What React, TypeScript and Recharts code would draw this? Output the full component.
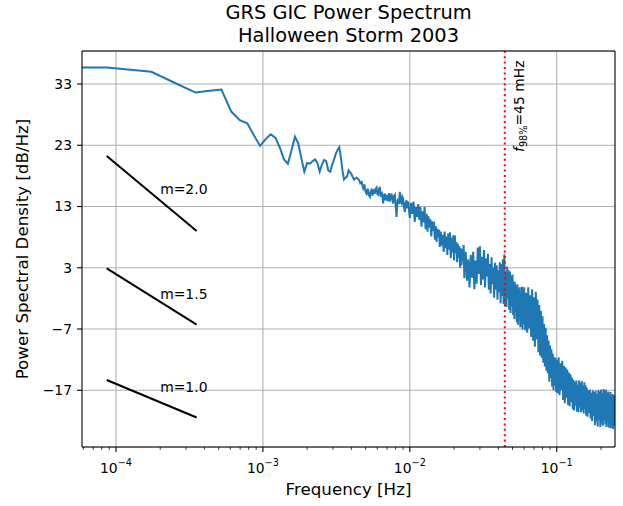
import React from 'react';
import {
  LineChart,
  Line,
  XAxis,
  YAxis,
  CartesianGrid,
  ReferenceLine,
  ReferenceDot
} from 'recharts';

// axis limits (frequency in Hz, PSD in dB/Hz)
const X_MIN = 5.871e-5;
const X_MAX = 0.2492;
const Y_MIN = -26.26;
const Y_MAX = 38.39;

const majorTicks = [1e-4, 1e-3, 1e-2, 1e-1];
const majorTickExp = ['\u22124', '\u22123', '\u22122', '\u22121'];
const minorMultipliers = [2, 3, 4, 5, 6, 7, 8, 9];
const yTicks = [33, 23, 13, 3, -7, -17];

// PSD: [frequency mHz, dB/Hz]
const psdLow = [
  [0.05, 35.7], [0.087, 35.7], [0.174, 35.0], [0.261, 33.0], [0.348, 31.6],
  [0.435, 31.9], [0.522, 32.1], [0.609, 28.5], [0.696, 27.1], [0.783, 26.6],
  [0.87, 24.6], [0.957, 22.9], [1.044, 24.0], [1.131, 24.8], [1.218, 24.2],
  [1.305, 22.6], [1.392, 20.7], [1.479, 20.0], [1.566, 22.2], [1.653, 24.4],
  [1.74, 23.3], [1.827, 20.9], [1.914, 18.7], [2.001, 20.1], [2.088, 20.0],
  [2.175, 20.4], [2.262, 20.7], [2.349, 20.1], [2.436, 18.7], [2.523, 19.9],
  [2.61, 20.6], [2.697, 20.4], [2.784, 18.9], [2.871, 18.7], [2.958, 19.8],
  [3.045, 20.6], [3.132, 21.6], [3.219, 22.2], [3.306, 22.7], [3.393, 21.1],
  [3.48, 18.9], [3.567, 17.4], [3.654, 17.7], [3.741, 17.9], [3.828, 18.9],
  [3.915, 18.6], [4.002, 18.3], [4.089, 17.8], [4.176, 17.4], [4.263, 17.6],
  [4.35, 17.7], [4.437, 17.5], [4.524, 17.3]
];

const psdMid = [
  [4.6, 16.8], [4.7, 17.0], [4.81, 16.0], [4.9, 16.6], [5.0, 15.4],
  [5.08, 15.1], [5.17, 15.9], [5.26, 14.9], [5.35, 14.6], [5.42, 15.5],
  [5.49, 15.7], [5.57, 14.8], [5.65, 15.8], [5.78, 15.1], [5.86, 15.9],
  [5.94, 16.1], [6.02, 15.0], [6.09, 14.9], [6.17, 15.8], [6.25, 16.2],
  [6.34, 14.6], [6.42, 15.4], [6.5, 14.9], [6.58, 13.5], [6.67, 14.7],
  [6.76, 15.1], [6.85, 14.0], [6.94, 14.9], [7.03, 13.9], [7.12, 14.3],
  [7.21, 15.2], [7.3, 13.8], [7.4, 14.6], [7.51, 15.1], [7.6, 14.1],
  [7.7, 13.5], [7.8, 14.7], [7.91, 14.9], [8.01, 13.2], [8.12, 11.3],
  [8.22, 13.6], [8.32, 14.3], [8.43, 13.4], [8.55, 15.4], [8.66, 13.8],
  [8.78, 13.5], [8.89, 14.6], [9.0, 14.3], [9.12, 13.0], [9.25, 12.1],
  [9.37, 13.6], [9.5, 14.0], [9.62, 12.7], [9.74, 13.8], [9.87, 12.4],
  [10.0, 11.1], [10.2, 13.6], [10.4, 11.8],
  [10.6, 13.8], [10.8, 10.5], [11.0, 12.9], [11.2, 11.3], [11.4, 13.4],
  [11.6, 10.8], [11.8, 12.9], [12.0, 9.7], [12.2, 12.2], [12.4, 10.4],
  [12.6, 12.9], [12.8, 9.3], [13.0, 11.8], [13.2, 8.9], [13.4, 11.4],
  [13.6, 9.6], [13.8, 10.9], [14.0, 8.1], [14.2, 10.6], [14.4, 9.0],
  [14.6, 10.5], [14.8, 7.6], [15.0, 9.8], [15.2, 7.2], [15.4, 9.4],
  [15.6, 8.0], [15.8, 9.2], [16.0, 6.4], [16.25, 8.9], [16.5, 6.6],
  [16.75, 8.4], [17.0, 5.6], [17.25, 8.9], [17.5, 6.2], [17.75, 8.1],
  [18.0, 5.1], [18.25, 8.6], [18.5, 6.0], [18.75, 8.8], [19.0, 4.6],
  [19.25, 7.9], [19.5, 5.5], [19.75, 8.3], [20.0, 4.2], [20.25, 8.3],
  [20.5, 5.4], [20.75, 7.2], [21.0, 3.9], [21.25, 6.9], [21.5, 4.6],
  [21.75, 6.5], [22.0, 3.0], [22.25, 6.2], [22.5, 3.4], [22.75, 6.0],
  [23.0, 4.1], [23.25, 6.7], [23.5, 1.3], [23.75, 5.2]
];

const psdHigh = [
  [24, 5.6], [24.5, 0.9], [25, 4.4], [25.5, -0.2], [26, 5.1], [26.5, 1.4],
  [27, 5.6], [27.5, -0.5], [28, 4.2], [28.5, 0.4], [29, 6.3], [29.5, 2.0],
  [30, 6.5], [30.5, 0.2], [31, 4.8], [31.5, 1.1], [32, 5.9], [32.5, -0.2],
  [33, 4.5], [33.5, 1.6], [34, 5.3], [34.5, -0.6], [35, 3.6], [35.5, -1.2],
  [36, 4.7], [36.5, 0.3], [37, 3.1], [37.5, -1.9], [38, 3.8], [38.5, -0.6],
  [39, 3.4], [39.5, -2.2], [40, 2.6], [40.5, -1.0], [41, 3.9], [41.5, -2.8],
  [42, 3.6], [42.5, -1.6], [43, 4.4], [43.5, -2.9], [44, 5.2], [44.5, -3.1],
  [45, 2.4], [45.5, -3.4], [46, 3.2], [46.5, -2.0], [47, 2.6], [47.5, -3.9],
  [48, 2.4], [48.5, -4.4], [49, 1.7], [49.5, -3.3], [50, 1.9], [50.5, -4.7],
  [51, 0.8], [51.5, -5.4], [52, 0.6], [52.5, -4.2], [53, 0.1], [53.5, -5.9],
  [54, 0.3], [54.5, -6.3], [55, -0.6], [55.5, -4.8], [56, -0.2], [56.5, -6.7],
  [57, -1.3], [57.5, -5.9], [58, -0.1], [58.5, -7.1], [59, -0.9], [59.5, -6.2],
  [60, -0.2]
];

const psdSteep = [
  [61, -7.2], [62, -1.1], [63, -7.6], [64, -0.2], [65, -6.9], [66, -1.5],
  [67, -8.3], [68, -0.5], [69, -8.9], [70, -1.8], [71, -9.9], [72, -0.9],
  [73, -8.7], [74, -2.2], [75, -10.8], [76, -3.1], [77, -11.3], [78, -4.0],
  [79, -11.7], [80, -4.9], [81, -12.5], [82, -6.2], [83, -13.1], [84, -6.8],
  [85, -13.8], [86, -8.0], [87, -14.2], [88, -8.9], [89, -15.6], [90, -9.7],
  [91, -15.0], [92, -10.3], [93, -16.4], [94, -11.0], [95, -17.0], [96, -11.6],
  [97, -16.2], [98, -11.7], [99, -17.3], [100, -12.0]
];

const psdTail = [
  [101.5, -17.5], [103, -11.6], [104.5, -17.8], [106, -12.6], [107.5, -17.0],
  [109, -12.2], [110.5, -18.6], [112, -13.0], [113.5, -19.1], [115, -13.3],
  [116.5, -18.2], [118, -13.6], [119.5, -19.4], [121, -14.1], [122.5, -19.6],
  [124, -14.4], [125.5, -18.9], [127, -14.9], [128.5, -20.1], [130, -15.3],
  [131.5, -20.3], [133, -15.6], [134.5, -19.5], [136, -15.4], [137.5, -20.5],
  [139, -16.1], [140.5, -20.6], [142, -15.4], [143.5, -19.8], [145, -15.8],
  [146.5, -20.6], [148, -15.5], [149.5, -20.2], [151, -16.3], [152.5, -20.8],
  [154, -15.7], [155.5, -20.0], [157, -16.2], [158.5, -21.1], [160, -16.6],
  [162, -21.3], [164, -17.0], [166, -20.7], [168, -16.9], [170, -21.6],
  [172, -17.4], [174, -22.0], [176, -17.0], [178, -21.2], [180, -17.3],
  [182, -22.7], [184, -17.1], [186, -22.1], [188, -17.6], [190, -22.9],
  [192, -17.0], [194, -21.8], [196, -17.2], [198, -23.0], [200, -16.9],
  [202, -22.4], [204, -17.5], [206, -22.8], [208, -16.8], [210, -21.9],
  [212, -17.1], [214, -22.6], [216, -16.9], [218, -23.0], [220, -17.4],
  [222, -22.2], [224, -17.2], [226, -23.1], [228, -17.7], [230, -22.5],
  [232, -17.3], [234, -23.2], [236, -17.9], [238, -22.6], [240, -17.6],
  [242, -23.3], [244, -18.0], [246, -22.8], [248, -17.8]
];

// 98% frequency marker
const f98 = 0.0443;
const f98LabelDb = 21.9;

// reference slopes
const slopeLabels = ['m=2.0', 'm=1.5', 'm=1.0'];
const slopeFreq = [8.65e-5, 3.54e-4];
const slopeStartDb = [21.25, 2.91, -15.32];
const slopeEndDb = [9.0, -6.28, -21.45];
const slopeLabelFreq = 2e-4;
const slopeLabelDb = [15.1, -2.1, -17.2];

const data = [...psdLow, ...psdMid, ...psdHigh, ...psdSteep, ...psdTail].map(([mhz, db]) => ({
  f: mhz / 1000,
  db
}));

const xTicks = [
  ...majorTicks,
  ...[1e-5, 1e-4, 1e-3, 1e-2, 1e-1].flatMap(d => minorMultipliers.map(m => m * d))
]
  .filter(t => t >= X_MIN && t <= X_MAX)
  .sort((a, b) => a - b);

const FONT = 'DejaVu Sans';
const GRID = '#b0b0b0';

const XTick = (props: any) => {
  const { x, y, payload } = props;
  const idx = majorTicks.findIndex(
    t => Math.abs(Math.log10(t) - Math.log10(payload.value)) < 1e-6
  );
  const major = idx >= 0;
  return (
    <g>
      <line
        x1={x}
        x2={x}
        y1={y}
        y2={y + (major ? 4.9 : 2.8)}
        stroke="#000"
        strokeWidth={major ? 1.1 : 0.8}
      />
      {major && (
        <text x={x} y={y + 26} textAnchor="middle" fontSize={13.9} fill="#000" fontFamily={FONT}>
          <tspan>10</tspan>
          <tspan fontSize={9.7} dy={-7}>{majorTickExp[idx]}</tspan>
        </text>
      )}
    </g>
  );
};

const App = () => {
  return (
    <div style={{ position: 'absolute', left: 0, top: 0, fontFamily: FONT, background: '#fff' }}>
      <LineChart
        width={623}
        height={506}
        data={data}
        margin={{ top: 51, right: 8, left: 0, bottom: 0 }}
      >
        <CartesianGrid vertical={false} stroke={GRID} strokeWidth={1.1} />
        {majorTicks.map(t => (
          <ReferenceLine key={t} x={t} stroke={GRID} strokeWidth={1.1} />
        ))}
        <XAxis
          dataKey="f"
          type="number"
          scale="log"
          domain={[X_MIN, X_MAX]}
          allowDataOverflow
          ticks={xTicks}
          interval={0}
          tick={<XTick />}
          tickLine={false}
          tickSize={0}
          tickMargin={0}
          height={59}
          axisLine={{ stroke: '#000', strokeWidth: 1.1 }}
        />
        <YAxis
          type="number"
          domain={[Y_MIN, Y_MAX]}
          allowDataOverflow
          ticks={yTicks}
          interval={0}
          width={82}
          tickSize={5}
          tickMargin={5}
          tickLine={{ stroke: '#000', strokeWidth: 1.1 }}
          axisLine={{ stroke: '#000', strokeWidth: 1.1 }}
          tick={{ fill: '#000', fontSize: 13.9, fontFamily: FONT }}
          tickFormatter={(v: number) => String(v).replace('-', '\u2212')}
        />
        {slopeLabels.map((lab, i) => (
          <ReferenceLine
            key={lab}
            segment={[
              { x: slopeFreq[0], y: slopeStartDb[i] },
              { x: slopeFreq[1], y: slopeEndDb[i] }
            ]}
            stroke="#000"
            strokeWidth={2}
          />
        ))}
        {slopeLabels.map((lab, i) => (
          <ReferenceDot
            key={'l' + lab}
            x={slopeLabelFreq}
            y={slopeLabelDb[i]}
            r={0}
            shape={(p: any) => (
              <text x={p.cx} y={p.cy} fontSize={13.9} fill="#000" fontFamily={FONT}>
                {lab}
              </text>
            )}
          />
        ))}
        <Line
          dataKey="db"
          type="linear"
          stroke="#1f77b4"
          strokeWidth={2}
          dot={false}
          activeDot={false}
          isAnimationActive={false}
        />
        <ReferenceLine
          x={f98}
          stroke="#ff0000"
          strokeWidth={2}
          strokeDasharray="2 3.4"
        />
        <ReferenceDot
          x={f98}
          y={f98LabelDb}
          r={0}
          shape={(p: any) => (
            <text
              x={p.cx + 19}
              y={p.cy}
              transform={`rotate(-90 ${p.cx + 19} ${p.cy})`}
              fontSize={13.9}
              fill="#000"
              fontFamily={FONT}
            >
              <tspan fontStyle="italic">f</tspan>
              <tspan fontSize={9.7} dy={3}>98%</tspan>
              <tspan dy={-3}>=45 mHz</tspan>
            </text>
          )}
        />
        <ReferenceLine y={Y_MAX} stroke="#000" strokeWidth={1.1} ifOverflow="visible" />
        <ReferenceLine x={X_MAX} stroke="#000" strokeWidth={1.1} ifOverflow="visible" />
        <text x={348.5} y={19} textAnchor="middle" fontSize={19.4} fill="#000" fontFamily={FONT}>
          GRS GIC Power Spectrum
        </text>
        <text x={348.5} y={41.5} textAnchor="middle" fontSize={19.4} fill="#000" fontFamily={FONT}>
          Halloween Storm 2003
        </text>
        <text x={348.5} y={494.5} textAnchor="middle" fontSize={16.7} fill="#000" fontFamily={FONT}>
          Frequency [Hz]
        </text>
        <text
          x={28}
          y={249}
          transform="rotate(-90 28 249)"
          textAnchor="middle"
          fontSize={16.7}
          fill="#000"
          fontFamily={FONT}
        >
          Power Spectral Density [dB/Hz]
        </text>
      </LineChart>
    </div>
  );
};

export default App;
